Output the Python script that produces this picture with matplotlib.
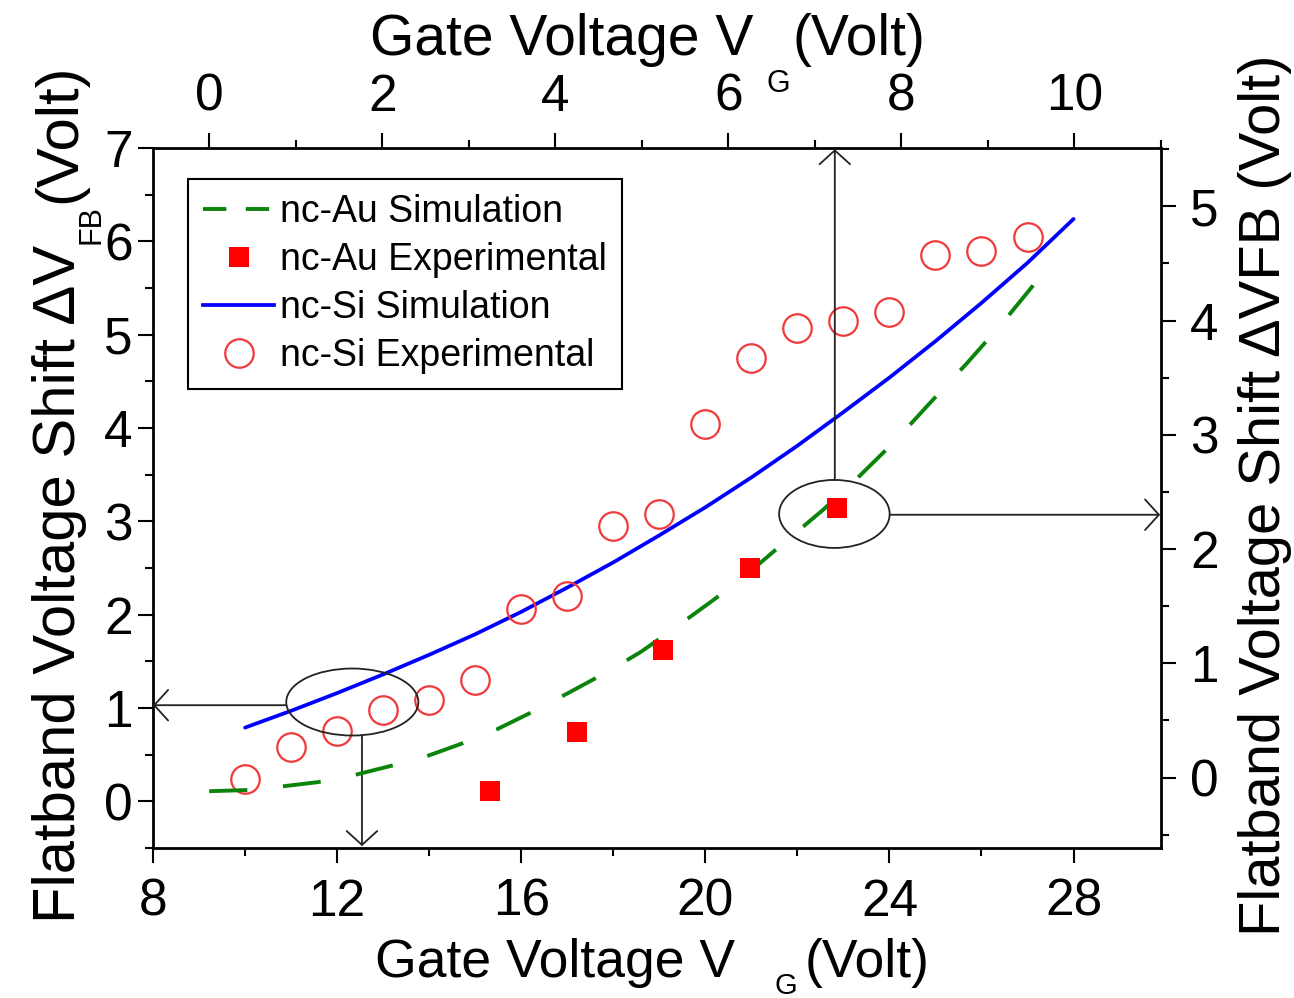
import matplotlib
matplotlib.use('Agg')
import matplotlib.pyplot as plt
from matplotlib.patches import Ellipse
from matplotlib.ticker import MultipleLocator
from matplotlib.lines import Line2D

plt.rcParams['font.family'] = ['Liberation Sans', 'DejaVu Sans']

# ---------------- data ----------------
# nc-Si (bottom / left axes)
si_exp_vg = [10, 11, 12, 13, 14, 15, 16, 17, 18, 19, 20, 21, 22, 23, 24, 25, 26, 27]
si_exp_dvfb = [0.24, 0.58, 0.75, 0.98, 1.09, 1.30, 2.06, 2.20, 2.95, 3.08,
               4.04, 4.75, 5.07, 5.15, 5.24, 5.85, 5.90, 6.05]
si_sim_vg = [10, 11, 12, 13, 14, 15, 16, 17, 18, 19, 20, 21, 22, 23, 24, 25, 26, 27, 28]
si_sim_dvfb = [0.79, 0.97, 1.16, 1.36, 1.57, 1.79, 2.03, 2.29, 2.56, 2.85,
               3.15, 3.47, 3.81, 4.17, 4.54, 4.93, 5.34, 5.77, 6.24]

# nc-Au (top / right axes)
au_exp_vg = [3.24, 4.25, 5.24, 6.25, 7.25]
au_exp_dvfb = [-0.12, 0.40, 1.12, 1.83, 2.36]
au_sim_vg = [0.0, 0.42, 0.82, 1.26, 1.67, 2.09, 2.49, 2.93, 3.32, 3.75, 4.15, 4.59,
             4.99, 5.42, 5.82, 6.17, 6.65, 7.09, 7.49, 7.92, 8.32, 8.75, 9.17, 9.59]
au_sim_dvfb = [-0.12, -0.11, -0.08, -0.04, 0.02, 0.10, 0.18, 0.30, 0.42, 0.58, 0.74, 0.92,
               1.10, 1.33, 1.55, 1.75, 2.06, 2.34, 2.62, 2.94, 3.27, 3.62, 3.98, 4.37]

bottom_ticks = [8, 12, 16, 20, 24, 28]
top_ticks = [0, 2, 4, 6, 8, 10]
left_ticks = [0, 1, 2, 3, 4, 5, 6, 7]
right_ticks = [0, 1, 2, 3, 4, 5]

labels = ['nc-Au Simulation', 'nc-Au Experimental', 'nc-Si Simulation', 'nc-Si Experimental']

# ---------------- figure ----------------
W, H = 1294, 998
fig = plt.figure(figsize=(W / 100, H / 100), dpi=100)

def fx(px):
    return px / W

def fy(py):
    return 1 - py / H

L, R, T, B = 153, 1161, 148, 848
rect = [fx(L), fy(B), fx(R) - fx(L), fy(T) - fy(B)]
ax = fig.add_axes(rect)
ax2 = fig.add_axes(rect, frameon=False)
ax2.patch.set_visible(False)

ax.set_xlim(8, 29.9)
ax.set_ylim(-0.5, 7)
ax2.set_xlim(-0.65, 11.0)
ax2.set_ylim(-0.617, 5.51)

GREEN = '#0a840a'
BLUE = '#0000ff'
RED_O = '#f03a3a'
RED_S = '#ff0000'

green_lw = 2.8
green_dash = (9.8, 9.2)

# nc-Si on bottom/left
l_si_sim, = ax.plot(si_sim_vg, si_sim_dvfb, color=BLUE, lw=2.7, solid_capstyle='round',
                    solid_joinstyle='round')
l_si_exp, = ax.plot(si_exp_vg, si_exp_dvfb, ls='none', marker='o', ms=20.5,
                    mfc='none', mec=RED_O, mew=1.6)

# nc-Au on top/right
l_au_sim, = ax2.plot(au_sim_vg, au_sim_dvfb, color=GREEN, lw=green_lw, ls=(0, green_dash))
l_au_exp, = ax2.plot(au_exp_vg, au_exp_dvfb, ls='none', marker='s', ms=15,
                     mfc=RED_S, mec=RED_S, mew=0)

# ---------------- ticks ----------------
tick_fs = 37
for s in ax.spines.values():
    s.set_linewidth(2.0)

ax.set_xticks(bottom_ticks)
ax.xaxis.set_minor_locator(MultipleLocator(2))
ax.set_yticks(left_ticks)
ax.yaxis.set_minor_locator(MultipleLocator(0.5))
ax.tick_params(axis='both', which='major', direction='out', length=11, width=1.5,
               labelsize=tick_fs)
ax.tick_params(axis='both', which='minor', direction='out', length=5.5, width=1.5)
ax.tick_params(axis='x', which='major', pad=10.5)
ax.tick_params(axis='y', which='major', pad=3.5)

ax2.xaxis.tick_top()
ax2.yaxis.tick_right()
ax2.set_xticks(top_ticks)
ax2.xaxis.set_minor_locator(MultipleLocator(1))
ax2.set_yticks(right_ticks)
ax2.yaxis.set_minor_locator(MultipleLocator(0.5))
ax2.tick_params(axis='both', which='major', direction='out', length=11, width=1.5,
                labelsize=tick_fs)
ax2.tick_params(axis='both', which='minor', direction='out', length=5.5, width=1.5)
ax2.tick_params(axis='x', which='major', pad=8)
ax2.tick_params(axis='y', which='major', pad=10)

# ---------------- axis labels ----------------
# bottom
fig.text(fx(735), fy(977), 'Gate Voltage V', fontsize=38.5, ha='right', va='baseline')
fig.text(fx(775), fy(994), 'G', fontsize=21, ha='left', va='baseline')
fig.text(fx(805), fy(977), '(Volt)', fontsize=38.5, ha='left', va='baseline')
# top
fig.text(fx(753), fy(55), 'Gate Voltage V', fontsize=41, ha='right', va='baseline')
fig.text(fx(767), fy(92), 'G', fontsize=22, ha='left', va='baseline')
fig.text(fx(792), fy(55), '(Volt)', fontsize=41, ha='left', va='baseline')
# left (rotated)
vfs = 43
fig.text(fx(75), fy(245), 'Flatband Voltage Shift \u0394V', fontsize=vfs, rotation=90,
         rotation_mode='anchor', ha='right', va='baseline')
fig.text(fx(100), fy(244), 'FB', fontsize=22, rotation=90,
         rotation_mode='anchor', ha='left', va='baseline')
fig.text(fx(75), fy(203), '(Volt)', fontsize=vfs, rotation=90,
         rotation_mode='anchor', ha='left', va='baseline')
# right
fig.text(fx(1280), fy(495), 'Flatband Voltage Shift \u0394VFB (Volt)', fontsize=41.7,
         rotation=90, rotation_mode='anchor', ha='center', va='baseline')

# ---------------- ellipses and arrows ----------------
ann_c = '#222222'
e1 = Ellipse((12.33, 1.064), 2.87, 0.718, fill=False, ec=ann_c, lw=1.3, zorder=5)
ax.add_patch(e1)
e2 = Ellipse((7.225, 2.307), 1.278, 0.595, fill=False, ec=ann_c, lw=1.3, zorder=5)
ax2.add_patch(e2)

astyle = '->,head_length=1.0,head_width=1.1'
aprops = dict(arrowstyle=astyle, color=ann_c, lw=1.3, shrinkA=0, shrinkB=0, mutation_scale=10)
ax.annotate('', xy=(8.0, 1.03), xytext=(10.89, 1.03), arrowprops=aprops, annotation_clip=False)
ax.annotate('', xy=(12.54, -0.48), xytext=(12.54, 0.707), arrowprops=aprops, annotation_clip=False)
ax2.annotate('', xy=(7.23, 5.50), xytext=(7.23, 2.605), arrowprops=aprops, annotation_clip=False)
ax2.annotate('', xy=(10.99, 2.30), xytext=(7.864, 2.30), arrowprops=aprops, annotation_clip=False)

# ---------------- legend ----------------
h_au_sim = Line2D([], [], color=GREEN, lw=green_lw, ls=(0, (6.0, 5.0)))
h_au_exp = Line2D([], [], ls='none', marker='s', ms=15, mfc=RED_S, mec=RED_S, mew=0)
h_si_sim = Line2D([], [], color=BLUE, lw=2.7)
h_si_exp = Line2D([], [], ls='none', marker='o', ms=20.5, mfc='none', mec=RED_O, mew=1.6)
leg = ax2.legend([h_au_sim, h_au_exp, h_si_sim, h_si_exp], labels,
                 loc='upper left', bbox_to_anchor=(fx(188), fy(179)),
                 bbox_transform=fig.transFigure, fontsize=27, frameon=True,
                 fancybox=False, edgecolor='black', framealpha=1,
                 handlelength=1.9, handletextpad=0.16, borderpad=0.4,
                 labelspacing=0.32, borderaxespad=0, numpoints=1)
leg.get_frame().set_linewidth(1.5)

fig.savefig('out.png', dpi=100)
